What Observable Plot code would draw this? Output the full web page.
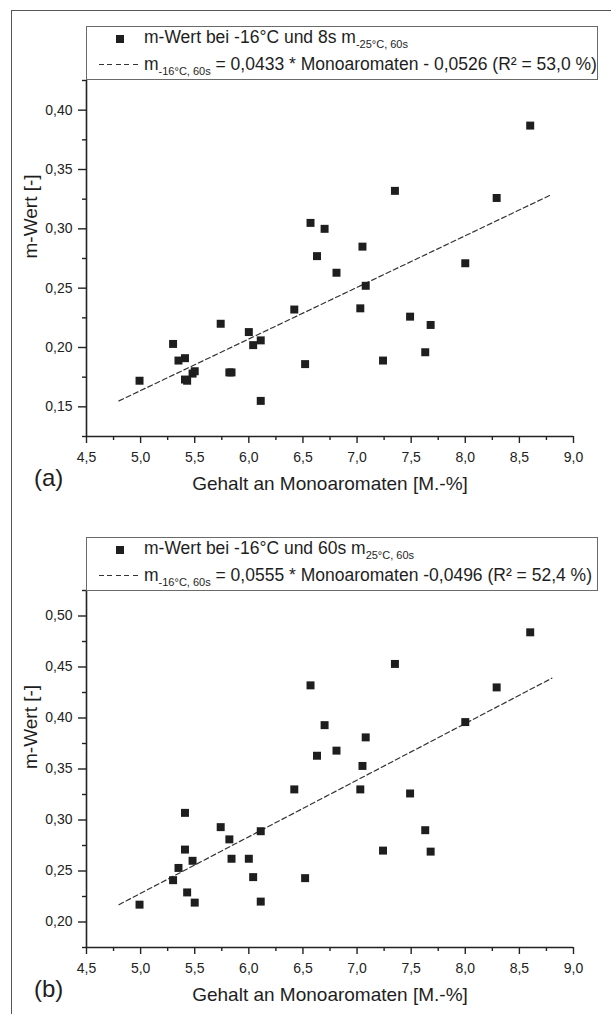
<!DOCTYPE html>
<html>
<head>
<meta charset="utf-8">
<script src="https://cdn.jsdelivr.net/npm/d3@7"></script>
<script src="https://cdn.jsdelivr.net/npm/@observablehq/plot@0.6"></script>
<style>
  html, body { margin: 0; padding: 0; background: #fff; }
  #page { position: relative; width: 611px; height: 1014px; overflow: hidden; background: #fff;
          font-family: "Liberation Sans", Arial, Helvetica, sans-serif; color: #222; }
  .abs { position: absolute; }
  .legend { position: absolute; border: 1px solid #6a6a6a; box-sizing: border-box; background: #fff; }
  .ltext { position: absolute; white-space: nowrap; font-size: 17.5px; line-height: 1; color: #1e1e1e; }
  .sub { font-size: 11px; position: relative; top: 5px; }
  .sq { position: absolute; width: 8px; height: 8px; background: #1e1e1e; }
  .dash { position: absolute; height: 1.2px;
          background: repeating-linear-gradient(to right, #333 0 5px, transparent 5px 8.5px); }
  .plabel { position: absolute; font-size: 24px; line-height: 1; color: #1e1e1e; }
</style>
</head>
<body>
<div id="page">
  <div class="abs" style="left:11px; top:10px; width:600px; height:0; border-top:1.5px solid #555;"></div>
  <div class="abs" style="left:11px; top:10px; width:0; height:1004px; border-left:1.5px solid #555;"></div>
  <div id="chartA" class="abs" style="left:0; top:0;"></div>
  <div id="chartB" class="abs" style="left:0; top:505px;"></div>

  <div class="legend" style="left:86px; top:26px; width:512px; height:54px;"></div>
  <div class="sq" style="left:116px; top:35px;"></div>
  <div class="ltext" style="left:144px; top:28.7px;">m-Wert bei -16°C und 8s m<span class="sub">-25°C, 60s</span></div>
  <div class="dash" style="left:99px; top:64px; width:42px;"></div>
  <div class="ltext" style="left:144px; top:55.7px;">m<span class="sub">-16°C, 60s</span> = 0,0433 * Monoaromaten - 0,0526 (R² = 53,0 %)</div>

  <div class="legend" style="left:86px; top:537px; width:512px; height:54px;"></div>
  <div class="sq" style="left:116px; top:546px;"></div>
  <div class="ltext" style="left:144px; top:539.7px;">m-Wert bei -16°C und 60s m<span class="sub">25°C, 60s</span></div>
  <div class="dash" style="left:99px; top:575px; width:42px;"></div>
  <div class="ltext" style="left:144px; top:566.7px;">m<span class="sub">-16°C, 60s</span> = 0,0555 * Monoaromaten -0,0496 (R² = 52,4 %)</div>

  <div class="plabel" style="left:34px; top:466px;">(a)</div>
  <div class="plabel" style="left:34px; top:977px;">(b)</div>
</div>
<script>
// ---- data ----
const monoaromaten = [4.99, 5.30, 5.35, 5.41, 5.41, 5.43, 5.48, 5.50, 5.74, 5.82, 5.84, 6.00, 6.04, 6.11, 6.11, 6.42,
                      6.52, 6.57, 6.63, 6.70, 6.81, 7.03, 7.05, 7.08, 7.24, 7.35, 7.49, 7.63, 7.68, 8.00, 8.29, 8.60];
const mWert8s  = [0.172, 0.203, 0.189, 0.191, 0.173, 0.172, 0.178, 0.180, 0.220, 0.179, 0.179, 0.213, 0.202, 0.206, 0.155, 0.232,
                  0.186, 0.305, 0.277, 0.300, 0.263, 0.233, 0.285, 0.252, 0.189, 0.332, 0.226, 0.196, 0.219, 0.271, 0.326, 0.387];
const mWert60s = [0.217, 0.241, 0.253, 0.307, 0.271, 0.229, 0.260, 0.219, 0.293, 0.281, 0.262, 0.262, 0.244, 0.289, 0.220, 0.330,
                  0.243, 0.432, 0.363, 0.393, 0.368, 0.330, 0.353, 0.381, 0.270, 0.453, 0.326, 0.290, 0.269, 0.396, 0.430, 0.484];
const fitX  = [4.8, 8.8];
const fitA  = [0.155, 0.329];
const fitB  = [0.217, 0.439];

const xTicks  = [4.5, 5.0, 5.5, 6.0, 6.5, 7.0, 7.5, 8.0, 8.5, 9.0];
const xMinor  = [4.75, 5.25, 5.75, 6.25, 6.75, 7.25, 7.75, 8.25, 8.75];
const yTicksA = [0.15, 0.20, 0.25, 0.30, 0.35, 0.40];
const yMinorA = [0.125, 0.175, 0.225, 0.275, 0.325, 0.375, 0.425];
const yTicksB = [0.20, 0.25, 0.30, 0.35, 0.40, 0.45, 0.50];
const yMinorB = [0.175, 0.225, 0.275, 0.325, 0.375, 0.425, 0.475, 0.525];
const xDomain  = [4.5, 9.0];
const yDomainA = [0.125, 0.425];
const yDomainB = [0.175, 0.525];

const xTitle = "Gehalt an Monoaromaten [M.-%]";
const yTitle = "m-Wert [-]";

const de = d3.formatLocale({decimal: ",", thousands: ".", grouping: [3], currency: ["", " €"]});
const f1 = de.format(".1f"), f2 = de.format(".2f");

function panel(ys, fitY, yDomain, yTicks, yMinor, height, mt, mb) {
  const pts = monoaromaten.map((x, i) => ({x, y: ys[i]}));
  const fit = fitX.map((x, i) => ({x, y: fitY[i]}));
  return Plot.plot({
    width: 611, height,
    marginLeft: 86, marginRight: 38, marginTop: mt, marginBottom: mb,
    x: {domain: xDomain},
    y: {domain: yDomain},
    style: {fontFamily: '"Liberation Sans", Arial, sans-serif', fontSize: "14px", color: "#222", background: "transparent", overflow: "visible"},
    marks: [
      Plot.axisX({ticks: xTicks, tickFormat: f1, tickSize: 7, tickPadding: 9, strokeWidth: 1.4, label: null, fontSize: 14}),
      Plot.axisX({ticks: xMinor, tickSize: 4, strokeWidth: 1.4, fill: "none", label: null}),
      Plot.axisY({ticks: yTicks, tickFormat: f2, tickSize: 8, tickPadding: 6, strokeWidth: 1.4, label: null, fontSize: 14}),
      Plot.axisY({ticks: yMinor, tickSize: 4, strokeWidth: 1.4, fill: "none", label: null}),
      Plot.ruleX([xDomain[0]], {stroke: "#222", strokeWidth: 1.6}),
      Plot.ruleY([yDomain[0]], {stroke: "#222", strokeWidth: 1.6}),
      Plot.line(fit, {x: "x", y: "y", stroke: "#333", strokeWidth: 1.2, strokeDasharray: "5,3"}),
      Plot.dot(pts, {x: "x", y: "y", symbol: "square", r: 4.5, fill: "#1e1e1e", stroke: "none"}),
      Plot.text([xTitle], {frameAnchor: "bottom", dy: 47, lineAnchor: "middle", fontSize: 19, fill: "#1e1e1e"}),
      Plot.text([yTitle], {frameAnchor: "left", dx: -56, rotate: -90, lineAnchor: "middle", fontSize: 19, fill: "#1e1e1e"})
    ]
  });
}

document.getElementById("chartA").append(panel(mWert8s, fitA, yDomainA, yTicksA, yMinorA, 505, 80, 69));
document.getElementById("chartB").append(panel(mWert60s, fitB, yDomainB, yTicksB, yMinorB, 509, 85, 67));
</script>
</body>
</html>
